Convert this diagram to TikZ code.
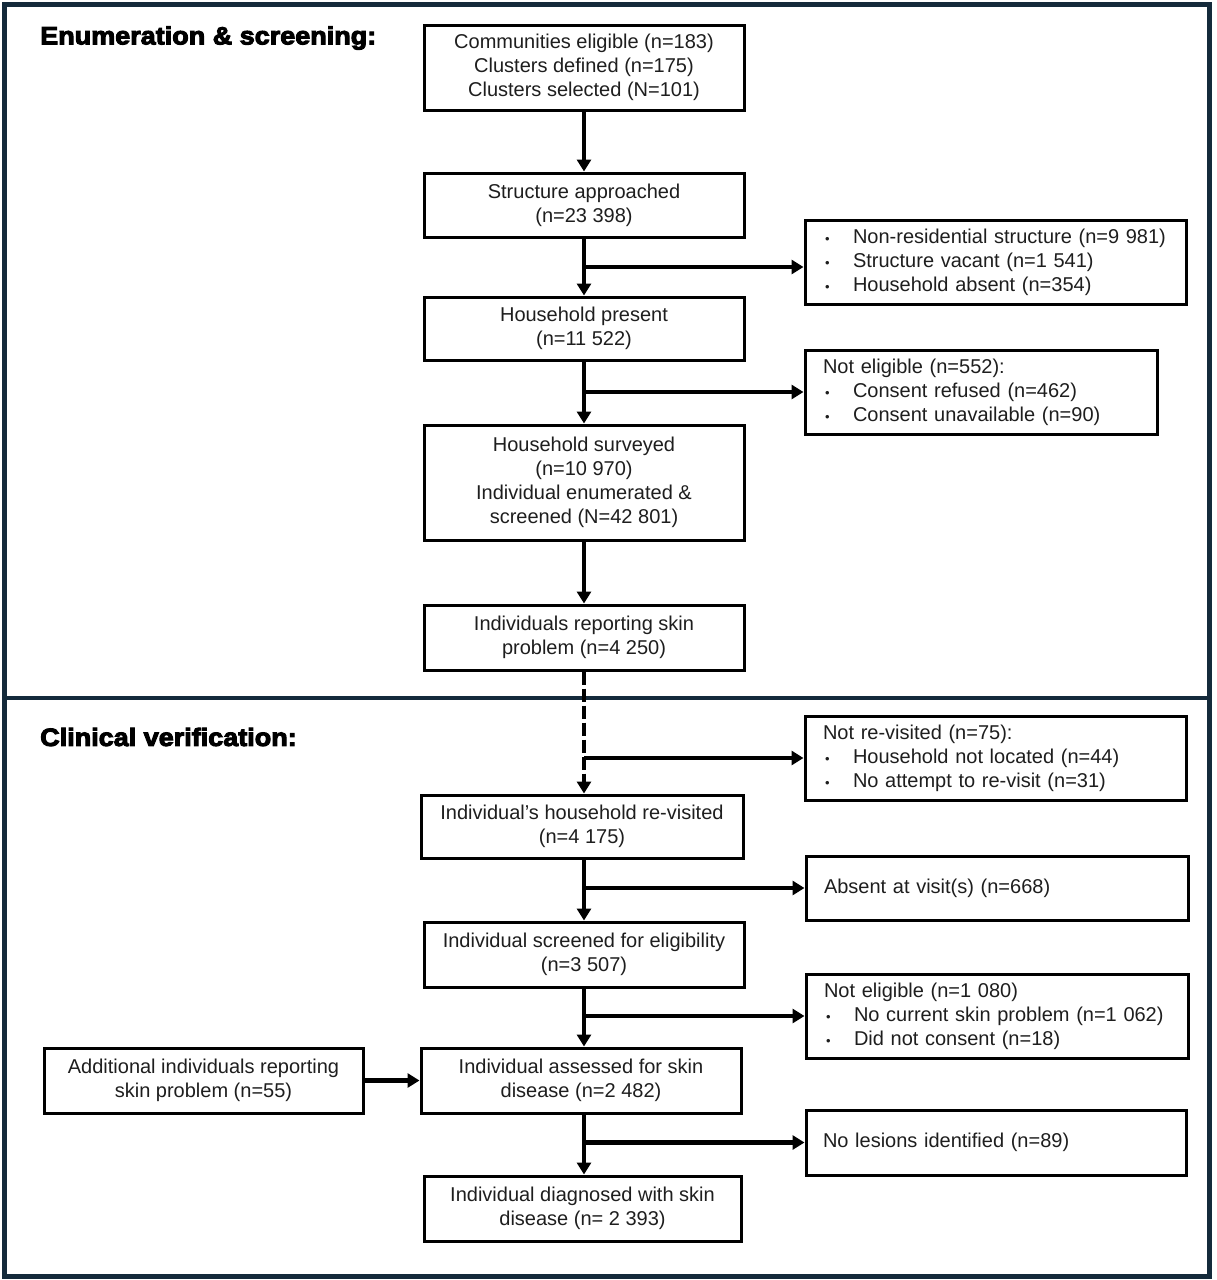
\documentclass[tikz,border=0pt]{standalone}
\usepackage{fontspec}
\setmainfont{Liberation Sans}
\newfontfamily\titlefont[FakeBold=4,FakeStretch=1.08]{Liberation Sans Bold}
\usetikzlibrary{arrows.meta,calc}
\definecolor{navy}{HTML}{142A3B}
\definecolor{txt}{HTML}{1E1E1E}
\tikzset{
  box/.style={draw=black, line width=3pt, fill=white, text=txt, align=center,
    font=\fontsize{20}{24}\selectfont, inner sep=0pt},
  sidebox/.style={draw=black, line width=3pt, fill=white, text=txt, align=left,
    font=\fontsize{20}{24}\selectfont, inner sep=0pt},
  arr/.style={line width=4.5pt, -{Triangle[length=12pt,width=14pt]}},
  dasharr/.style={line width=4.5pt, dash pattern=on 13pt off 4pt, -{Triangle[length=12pt,width=14pt]}},
  ttl/.style={font=\titlefont\fontsize{25}{28}\selectfont, text=black, anchor=west, inner sep=0pt},
}
\newcommand{\bul}{\makebox[30pt][l]{\hspace*{2pt}{\fontsize{13}{13}\selectfont •}}}
\begin{document}
\begin{tikzpicture}[x=1pt,y=-1pt]
\useasboundingbox (0,0) rectangle (1216,1280);
\fill[white] (0,0) rectangle (1216,1280);
\draw[navy, line width=5pt] (4,4) rectangle (1209,1276);
\draw[navy, line width=4pt] (4,698) -- (1212,698);

\node[ttl] (t1) at (40,38) {Enumeration \& screening:};
\node[ttl] (t2) at (40,737) {Clinical verification:};

% main column
\node[box, minimum width=320pt, minimum height=85pt] (b1) at (584,67.5)
  {Communities eligible (n=183)\\Clusters defined (n=175)\\Clusters selected (N=101)};
\node[box, minimum width=320pt, minimum height=64pt] (b2) at (584,205)
  {Structure approached\\(n=23 398)};
\node[box, minimum width=320pt, minimum height=63pt] (b3) at (584,328.5)
  {Household present\\(n=11 522)};
\node[box, minimum width=320pt, minimum height=115pt] (b4) at (584,482.5)
  {Household surveyed\\(n=10 970)\\Individual enumerated \&\\screened (N=42 801)};
\node[box, minimum width=320pt, minimum height=65pt] (b5) at (584,637.5)
  {Individuals reporting skin\\problem (n=4 250)};
\node[box, minimum width=322pt, minimum height=63pt] (b6) at (582,826.5)
  {Individual’s household re-visited\\(n=4 175)};
\node[box, minimum width=320pt, minimum height=65pt] (b7) at (584,954.5)
  {Individual screened for eligibility\\(n=3 507)};
\node[box, minimum width=320pt, minimum height=65pt] (b8) at (581,1080.5)
  {Individual assessed for skin\\disease (n=2 482)};
\node[box, minimum width=317pt, minimum height=65pt] (b9) at (582.5,1208.5)
  {Individual diagnosed with skin\\disease (n= 2 393)};
\node[box, minimum width=319pt, minimum height=65pt] (l1) at (203.5,1080.5)
  {Additional individuals reporting\\skin problem (n=55)};

% side boxes
\node[sidebox, minimum width=381pt, minimum height=84pt, text width=345pt] (r1) at (995.5,262)
  {\bul Non-residential structure (n=9 981)\\\bul Structure vacant (n=1 541)\\\bul Household absent (n=354)};
\node[sidebox, minimum width=352pt, minimum height=84pt, text width=316pt] (r2) at (981,392)
  {Not eligible (n=552):\\\bul Consent refused (n=462)\\\bul Consent unavailable (n=90)};
\node[sidebox, minimum width=381pt, minimum height=84pt, text width=345pt] (r3) at (995.5,758)
  {Not re-visited (n=75):\\\bul Household not located (n=44)\\\bul No attempt to re-visit (n=31)};
\node[sidebox, minimum width=382pt, minimum height=64pt, text width=346pt] (r4) at (997,888)
  {Absent at visit(s) (n=668)};
\node[sidebox, minimum width=382pt, minimum height=84pt, text width=346pt] (r5) at (997,1016)
  {Not eligible (n=1 080)\\\bul No current skin problem (n=1 062)\\\bul Did not consent (n=18)};
\node[sidebox, minimum width=380pt, minimum height=65pt, text width=346pt] (r6) at (996,1142.5)
  {No lesions identified (n=89)};

% connectors
\draw[arr] (b1.south) -- (b1.south |- b2.north);
\draw[arr] (b2.south) -- (b2.south |- b3.north);
\draw[arr] ($(b2.south)!0.5!(b2.south |- b3.north)$) -- (r1.west |- {$(b2.south)!0.5!(b2.south |- b3.north)$});
\draw[arr] (b3.south) -- (b3.south |- b4.north);
\draw[arr] (b3.south |- r2.west) -- (r2.west);
\draw[arr] (b4.south) -- (b4.south |- b5.north);
\draw[dasharr] (b5.south) -- (b5.south |- b6.north);
\draw[arr] (b5.south |- r3.west) -- (r3.west);
\draw[arr] (b5.south |- b6.south) -- (b5.south |- b7.north);
\draw[arr] (b5.south |- r4.west) -- (r4.west);
\draw[arr] (b7.south) -- (b7.south |- b8.north);
\draw[arr] (b7.south |- r5.west) -- (r5.west);
\draw[arr] (l1.east) -- (b8.west);
\draw[arr] (b5.south |- b8.south) -- (b5.south |- b9.north);
\draw[arr] (b5.south |- r6.west) -- (r6.west);
\end{tikzpicture}
\end{document}
